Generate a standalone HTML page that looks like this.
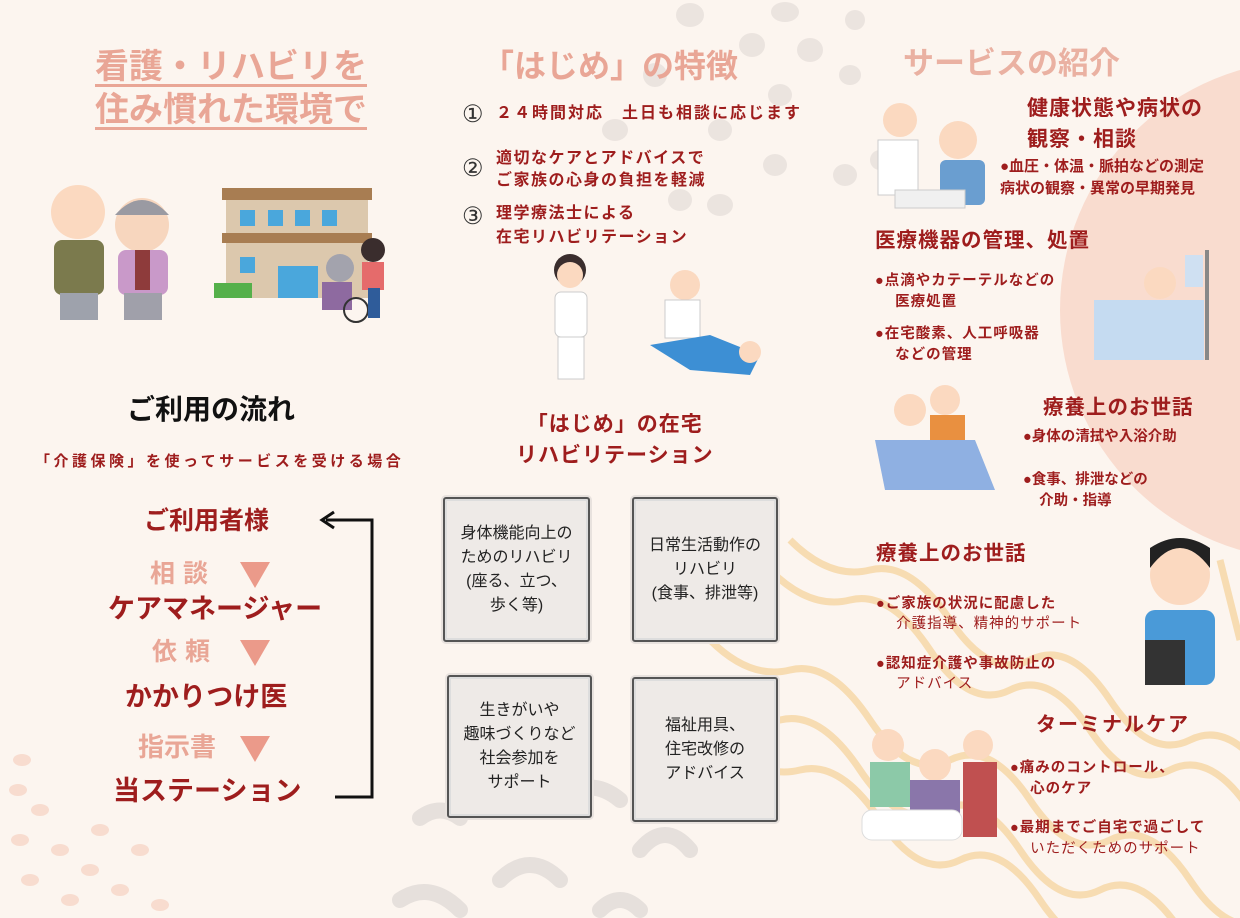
<!DOCTYPE html>
<html style="width:1240px;height:918px;overflow:hidden"><head><meta charset="utf-8"><style>
*{margin:0;padding:0;box-sizing:border-box}
body{width:1240px;height:918px;overflow:hidden;background:#fcf5ef;font-family:"Liberation Sans","Noto Sans CJK JP",sans-serif;position:relative}
.t{position:absolute;white-space:nowrap;line-height:1}
.r{color:#9e1d1d;font-weight:bold}
.pk{color:#e9a696;font-weight:bold}
.box{position:absolute;background:#eeeae7;border:2px solid #555;box-shadow:inset 0 0 0 2px #ddd,0 0 0 2px #e8e2de;border-radius:3px;display:flex;align-items:center;justify-content:center;text-align:center;font-size:16px;line-height:1.5;color:#222}
b.d{font-size:1.15em}
</style></head><body>
<svg width="1240" height="918" style="position:absolute;left:0;top:0;overflow:hidden">
<circle cx="1310" cy="310" r="250" fill="#f9dccf"/>
<g fill="#ebe4df">
<ellipse cx="690" cy="15" rx="14" ry="12"/><ellipse cx="785" cy="12" rx="14" ry="10"/><ellipse cx="752" cy="45" rx="13" ry="12"/><ellipse cx="810" cy="50" rx="13" ry="12"/><ellipse cx="850" cy="75" rx="11" ry="10"/><ellipse cx="655" cy="75" rx="12" ry="12"/><ellipse cx="780" cy="95" rx="12" ry="11"/><ellipse cx="615" cy="130" rx="13" ry="11"/><ellipse cx="720" cy="130" rx="12" ry="11"/><ellipse cx="775" cy="165" rx="12" ry="11"/><ellipse cx="845" cy="175" rx="12" ry="11"/><ellipse cx="720" cy="205" rx="13" ry="11"/><ellipse cx="680" cy="200" rx="12" ry="11"/><ellipse cx="855" cy="20" rx="10" ry="10"/><ellipse cx="880" cy="160" rx="10" ry="10"/>
</g>
<g fill="none" stroke="#e6e0dc" stroke-width="16" stroke-linecap="round">
<path d="M420 818 q20 -15 40 0"/><path d="M500 880 q30 -30 60 0"/><path d="M560 800 q30 -25 60 0"/><path d="M640 850 q25 -30 50 0"/><path d="M400 900 q30 -20 60 10"/><path d="M600 910 q20 -20 40 0"/>
</g>
<g fill="#f8dccf">
<ellipse cx="22" cy="760" rx="9" ry="6"/><ellipse cx="18" cy="790" rx="9" ry="6"/><ellipse cx="40" cy="810" rx="9" ry="6"/><ellipse cx="20" cy="840" rx="9" ry="6"/><ellipse cx="60" cy="850" rx="9" ry="6"/><ellipse cx="90" cy="870" rx="9" ry="6"/><ellipse cx="30" cy="880" rx="9" ry="6"/><ellipse cx="120" cy="890" rx="9" ry="6"/><ellipse cx="70" cy="900" rx="9" ry="6"/><ellipse cx="140" cy="850" rx="9" ry="6"/><ellipse cx="160" cy="905" rx="9" ry="6"/><ellipse cx="100" cy="830" rx="9" ry="6"/>
</g>
<g fill="none" stroke="#f7dcb2" stroke-width="7">
<path d="M790 540 q40 40 80 30 t80 50 t80 40 t80 40 t80 40 t80 40"/>
<path d="M770 570 q40 40 80 30 t80 50 t80 40 t80 40 t80 40 t80 40"/>
<path d="M710 640 q40 40 80 30 t80 50 t80 40 t80 40 t80 40 t80 40 t80 40"/>
<path d="M700 690 q40 40 80 30 t80 50 t80 40 t80 40 t80 40 t80 40 t80 40"/>
<path d="M720 740 q40 40 80 30 t80 50 t80 40 t80 40 t80 40 t80 40"/>
<path d="M1220 560 q10 40 20 80"/>
</g>
<g>
<circle cx="78" cy="212" r="27" fill="#fbd9c0"/><rect x="54" y="240" width="50" height="55" rx="8" fill="#7b7a4d"/><rect x="60" y="293" width="38" height="27" fill="#9ea2ac"/>
<circle cx="142" cy="225" r="27" fill="#f7d6be"/><path d="M115 215 q27 -30 54 0" fill="#9a9aa2"/><rect x="118" y="250" width="50" height="45" rx="8" fill="#c999c9"/><rect x="135" y="250" width="15" height="40" fill="#8e3b3b"/><rect x="124" y="293" width="38" height="27" fill="#a0a0aa"/>
<rect x="222" y="188" width="150" height="12" fill="#a87d52"/><rect x="226" y="200" width="142" height="98" fill="#dcc8ad"/><rect x="222" y="233" width="150" height="10" fill="#a87d52"/>
<g fill="#4aa7dc"><rect x="240" y="210" width="15" height="16"/><rect x="268" y="210" width="15" height="16"/><rect x="295" y="210" width="15" height="16"/><rect x="322" y="210" width="15" height="16"/><rect x="240" y="257" width="15" height="16"/><rect x="278" y="266" width="40" height="32"/></g>
<rect x="214" y="283" width="38" height="15" fill="#55b04a"/><circle cx="340" cy="268" r="14" fill="#a3a3ad"/><rect x="322" y="282" width="30" height="28" fill="#8e6aa0"/><circle cx="356" cy="310" r="12" fill="none" stroke="#333" stroke-width="2"/><circle cx="373" cy="250" r="12" fill="#3a2d2d"/><rect x="362" y="262" width="22" height="28" fill="#e56b6b"/><rect x="368" y="288" width="12" height="30" fill="#2f5c9a"/>
<circle cx="570" cy="270" r="16" fill="#3a2d2d"/><circle cx="570" cy="275" r="13" fill="#fbd9c0"/><rect x="555" y="292" width="32" height="45" rx="6" fill="#fff" stroke="#ccc"/><rect x="558" y="337" width="26" height="42" fill="#fff" stroke="#ccc"/>
<circle cx="685" cy="285" r="15" fill="#fbd9c0"/><rect x="665" y="300" width="35" height="38" fill="#fff" stroke="#ccc"/><path d="M650 345 l60 -10 l50 20 l-10 20 l-60 -5 z" fill="#3d8fd4"/><circle cx="750" cy="352" r="11" fill="#fbd9c0"/>
<circle cx="900" cy="120" r="17" fill="#fbd9c0"/><rect x="878" y="140" width="40" height="55" fill="#fff" stroke="#ccc"/><circle cx="958" cy="140" r="19" fill="#fbd9c0"/><rect x="940" y="160" width="45" height="45" rx="6" fill="#6a9ed0"/><rect x="895" y="190" width="70" height="18" fill="#f0f0f0" stroke="#ccc"/>
<rect x="1094" y="300" width="110" height="60" fill="#c5dbf1"/><circle cx="1160" cy="283" r="16" fill="#fbd9c0"/><rect x="1185" y="255" width="18" height="32" fill="#cfe0f2"/><rect x="1205" y="250" width="4" height="110" fill="#888"/>
<circle cx="910" cy="410" r="16" fill="#fbd9c0"/><circle cx="945" cy="400" r="15" fill="#fbd9c0"/><rect x="930" y="415" width="35" height="30" fill="#e99040"/><path d="M875 440 l100 0 l20 50 l-110 0 z" fill="#8fb0e2"/>
<circle cx="1180" cy="575" r="30" fill="#fbd9c0"/><path d="M1150 568 q30 -40 60 0 l0 -20 q-30 -20 -60 0z" fill="#222"/><rect x="1145" y="610" width="70" height="75" rx="10" fill="#4a9ad8"/><rect x="1145" y="640" width="40" height="45" fill="#333"/>
<circle cx="888" cy="745" r="16" fill="#fbd9c0"/><rect x="870" y="762" width="40" height="45" fill="#8cc9a8"/><circle cx="935" cy="765" r="16" fill="#fbd9c0"/><rect x="910" y="780" width="50" height="35" fill="#8a76aa"/><circle cx="978" cy="745" r="15" fill="#fbd9c0"/><rect x="963" y="762" width="34" height="75" fill="#c05050"/><rect x="862" y="810" width="100" height="30" rx="10" fill="#fff" stroke="#ddd"/>
</g>
<path d="M335 797 H372 V520 H326" fill="none" stroke="#111" stroke-width="3"/>
<path d="M334 512 L322 520 L334 528" fill="none" stroke="#111" stroke-width="3"/>
<g fill="#eb9a8a"><path d="M240 562 h30 l-15 26z"/><path d="M240 640 h30 l-15 26z"/><path d="M240 736 h30 l-15 26z"/></g>
</svg>

<div class="t pk" style="left:95px;top:50px;font-size:34px;text-decoration:underline;text-underline-offset:6px">看護・リハビリを</div>
<div class="t pk" style="left:95px;top:93px;font-size:34px;text-decoration:underline;text-underline-offset:6px">住み慣れた環境で</div>
<div class="t pk" style="left:482px;top:50px;font-size:32px">「はじめ」の特徴</div>
<div class="t pk" style="left:903px;top:48px;font-size:31px;color:#eab1a2">サービスの紹介</div>

<div class="t" style="left:462px;top:103px;font-size:24px;color:#333;font-family:'Liberation Serif',serif">①</div>
<div class="t r" style="left:496px;top:106px;font-size:16px;letter-spacing:2px">２４時間対応　土日も相談に応じます</div>
<div class="t" style="left:462px;top:157px;font-size:24px;color:#333;font-family:'Liberation Serif',serif">②</div>
<div class="t r" style="left:496px;top:148px;font-size:16px;line-height:22px;letter-spacing:1.5px">適切なケアとアドバイスで<br>ご家族の心身の負担を軽減</div>
<div class="t" style="left:462px;top:205px;font-size:24px;color:#333;font-family:'Liberation Serif',serif">③</div>
<div class="t r" style="left:496px;top:202px;font-size:16px;line-height:24px;letter-spacing:1.5px">理学療法士による<br>在宅リハビリテーション</div>

<div class="t r" style="left:127px;top:396px;font-size:28px;color:#111">ご利用の流れ</div>
<div class="t r" style="left:35px;top:454px;font-size:15px;letter-spacing:3.5px">「介護保険」を使ってサービスを受ける場合</div>
<div class="t r" style="left:144px;top:509px;font-size:25px">ご利用者様</div>
<div class="t pk" style="left:150px;top:562px;font-size:25px;letter-spacing:8px">相談</div>
<div class="t r" style="left:108px;top:596px;font-size:27px">ケアマネージャー</div>
<div class="t pk" style="left:152px;top:640px;font-size:25px;letter-spacing:8px">依頼</div>
<div class="t r" style="left:125px;top:684px;font-size:27px">かかりつけ医</div>
<div class="t pk" style="left:138px;top:734px;font-size:26px">指示書</div>
<div class="t r" style="left:113px;top:778px;font-size:27px">当ステーション</div>

<div class="t r" style="left:516px;top:409px;font-size:21px;letter-spacing:1px;text-align:center;line-height:31px">「はじめ」の在宅<br>リハビリテーション</div>

<div class="box" style="left:443px;top:497px;width:147px;height:145px">身体機能向上の<br>ためのリハビリ<br>(座る、立つ、<br>歩く等)</div>
<div class="box" style="left:632px;top:497px;width:146px;height:145px">日常生活動作の<br>リハビリ<br>(食事、排泄等)</div>
<div class="box" style="left:447px;top:675px;width:145px;height:143px">生きがいや<br>趣味づくりなど<br>社会参加を<br>サポート</div>
<div class="box" style="left:632px;top:677px;width:146px;height:145px">福祉用具、<br>住宅改修の<br>アドバイス</div>

<div class="t r" style="left:1027px;top:93px;font-size:21px;line-height:31px;letter-spacing:1px">健康状態や病状の<br>観察・相談</div>
<div class="t r" style="left:1000px;top:156px;font-size:15px;line-height:22px">●血圧・体温・脈拍などの測定<br>病状の観察・異常の早期発見</div>
<div class="t r" style="left:875px;top:231px;font-size:20.5px;letter-spacing:1px">医療機器の管理、処置</div>
<div class="t r" style="left:875px;top:271px;font-size:14.5px;line-height:21px;letter-spacing:1px">●点滴やカテーテルなどの<br>&nbsp;&nbsp;&nbsp;&nbsp;医療処置</div>
<div class="t r" style="left:875px;top:324px;font-size:14.5px;line-height:21px;letter-spacing:1px">●在宅酸素、人工呼吸器<br>&nbsp;&nbsp;&nbsp;&nbsp;などの管理</div>
<div class="t r" style="left:1043px;top:398px;font-size:20.5px;letter-spacing:1px">療養上のお世話</div>
<div class="t r" style="left:1023px;top:430px;font-size:14.5px">●身体の清拭や入浴介助</div>
<div class="t r" style="left:1023px;top:470px;font-size:14.5px;line-height:21px">●食事、排泄などの<br>&nbsp;&nbsp;&nbsp;&nbsp;介助・指導</div>
<div class="t r" style="left:876px;top:544px;font-size:20.5px;letter-spacing:1px">療養上のお世話</div>
<div class="t r" style="left:876px;top:594px;font-size:14.5px;line-height:20px;letter-spacing:1px">●ご家族の状況に配慮した<br>&nbsp;&nbsp;&nbsp;&nbsp;<span style="font-weight:normal">介護指導、精神的サポート</span></div>
<div class="t r" style="left:876px;top:654px;font-size:14.5px;line-height:20px;letter-spacing:1px">●認知症介護や事故防止の<br>&nbsp;&nbsp;&nbsp;&nbsp;<span style="font-weight:normal">アドバイス</span></div>
<div class="t r" style="left:1036px;top:715px;font-size:20px;letter-spacing:2px">ターミナルケア</div>
<div class="t r" style="left:1010px;top:758px;font-size:14.5px;line-height:21px;letter-spacing:1px">●痛みのコントロール、<br>&nbsp;&nbsp;&nbsp;&nbsp;心のケア</div>
<div class="t r" style="left:1010px;top:818px;font-size:14.5px;line-height:21px;letter-spacing:1px">●最期までご自宅で過ごして<br>&nbsp;&nbsp;&nbsp;&nbsp;<span style="font-weight:normal">いただくためのサポート</span></div>
</body></html>
